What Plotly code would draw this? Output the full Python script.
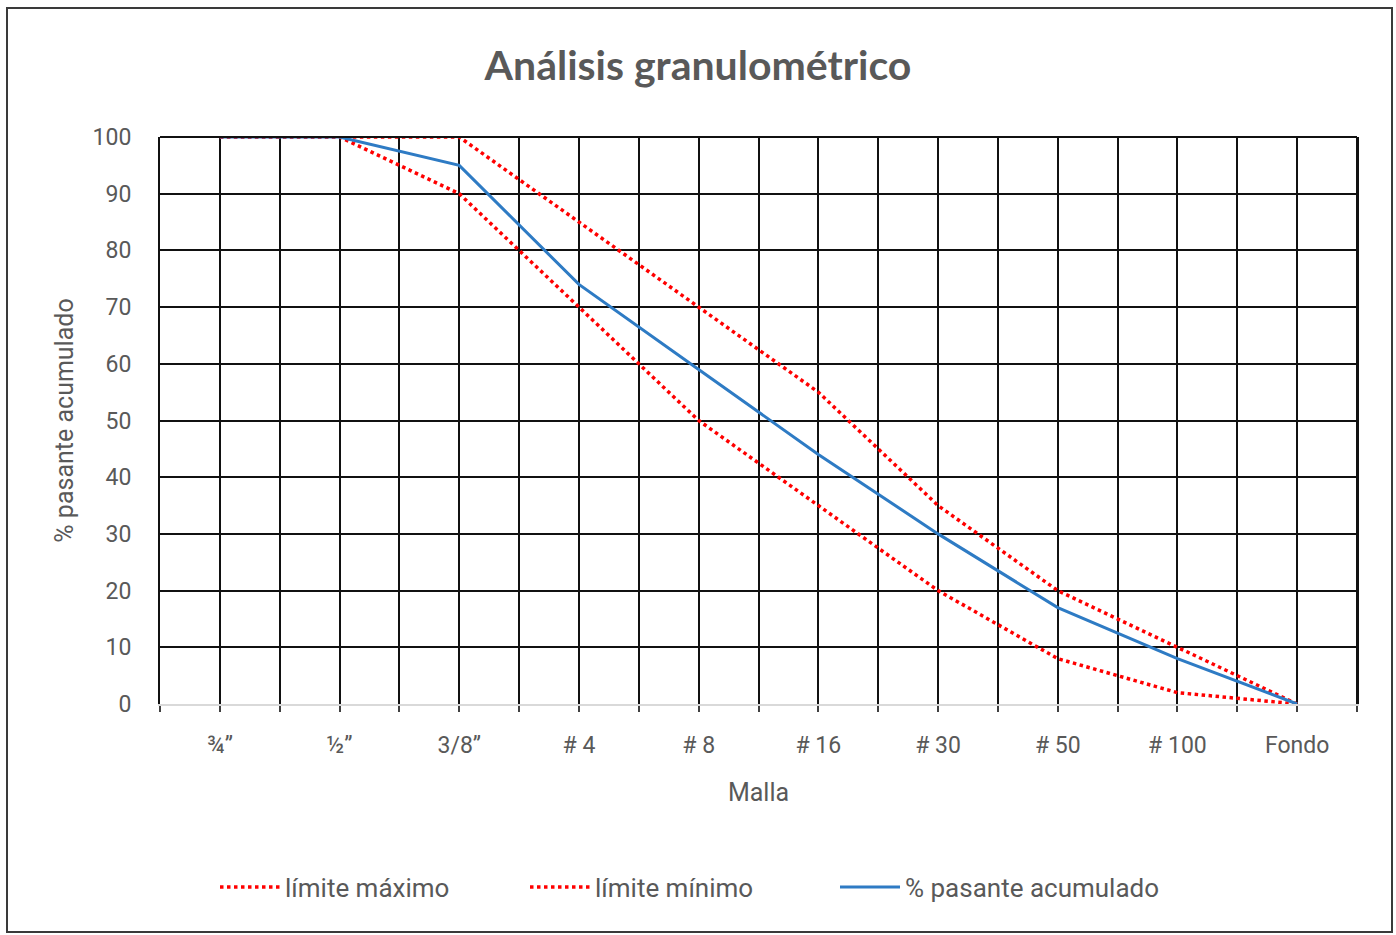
import plotly.graph_objects as go

mallas = ["¾”", "½”", "3/8”", "# 4", "# 8", "# 16", "# 30", "# 50", "# 100", "Fondo"]
limite_maximo = [100, 100, 100, 85, 70, 55, 35, 20, 10, 0]
limite_minimo = [100, 100, 90, 70, 50, 35, 20, 8, 2, 0]
pasante_acumulado = [100, 100, 95, 74, 59, 44, 30, 17, 8, 0]

y_ticks = list(range(0, 101, 10))
x_pos = list(range(len(mallas)))

GRAY = "#595959"
RED = "#FF0000"
BLUE = "#2E7BC4"
FONT = "Liberation Sans Narrow, Roboto, sans-serif"

fig = go.Figure()
fig.add_trace(go.Scatter(x=x_pos, y=limite_maximo, mode="lines", name="límite máximo",
                         legendwidth=235,
                         line=dict(color=RED, width=3.5, dash="dot")))
fig.add_trace(go.Scatter(x=x_pos, y=limite_minimo, mode="lines", name="límite mínimo",
                         legendwidth=235,
                         line=dict(color=RED, width=3.5, dash="dot")))
fig.add_trace(go.Scatter(x=x_pos, y=pasante_acumulado, mode="lines", name="% pasante acumulado",
                         legendwidth=280,
                         line=dict(color=BLUE, width=3)))

L, R, T, B = 160, 39, 137, 231
W, H = 1396, 935
pw, ph = W - L - R, H - T - B

def px_x(v):
    return (v - L) / pw

def px_y(v):
    return (H - B - v) / ph

fig.update_layout(
    width=W, height=H,
    margin=dict(l=L, r=R, t=T, b=B),
    paper_bgcolor="white", plot_bgcolor="white",
    title=dict(text="<b>Análisis granulométrico</b>", x=0.5, xanchor="center",
               y=1 - 66 / H, yanchor="middle",
               font=dict(family="Lato, Open Sans, sans-serif", size=41, color=GRAY)),
    font=dict(family=FONT, color=GRAY),
    showlegend=True,
    legend=dict(orientation="h", x=px_x(215) - 0.0, xanchor="left", y=px_y(887), yanchor="middle",
                font=dict(family=FONT, size=26, color=GRAY),
                itemwidth=60, bgcolor="rgba(0,0,0,0)"),
    shapes=[dict(type="rect", xref="paper", yref="paper",
                 x0=px_x(7), x1=px_x(1392), y0=px_y(932), y1=px_y(8),
                 line=dict(color="#3a3a3a", width=2), layer="below")],
)

fig.update_xaxes(
    range=[-0.5, len(mallas) - 0.5],
    tickmode="array", tickvals=x_pos, ticktext=mallas,
    tickfont=dict(size=23, color=GRAY),
    ticks="outside", ticklen=6, tickcolor="#404040", tickwidth=1.5,
    ticklabelstandoff=13,
    showgrid=True, gridcolor="#111111", gridwidth=2,
    minor=dict(tickmode="linear", tick0=-0.5, dtick=1, showgrid=True, gridcolor="#111111",
               gridwidth=2, ticks="outside", ticklen=6, tickcolor="#404040", tickwidth=1.5),
    showline=True, linecolor="#d9d9d9", linewidth=2, mirror=False,
    zeroline=False,
    title=dict(text="Malla", standoff=26,
               font=dict(family=FONT, size=25, color=GRAY)),
)
fig.update_yaxes(
    range=[0, 100], tickmode="array", tickvals=y_ticks,
    tickfont=dict(size=23, color=GRAY),
    ticks="", ticklabelstandoff=22,
    showgrid=True, gridcolor="#111111", gridwidth=2,
    showline=True, linecolor="#111111", linewidth=2, mirror=True,
    zeroline=False,
    title=dict(text="% pasante acumulado", standoff=12,
               font=dict(family=FONT, size=25, color=GRAY)),
)
fig.add_shape(type="line", xref="paper", yref="paper", x0=0, x1=1, y0=1, y1=1,
              line=dict(color="#111111", width=2))
fig.add_shape(type="line", xref="paper", yref="paper", x0=1, x1=1, y0=0, y1=1,
              line=dict(color="#111111", width=2))

fig.write_html("out.html")
